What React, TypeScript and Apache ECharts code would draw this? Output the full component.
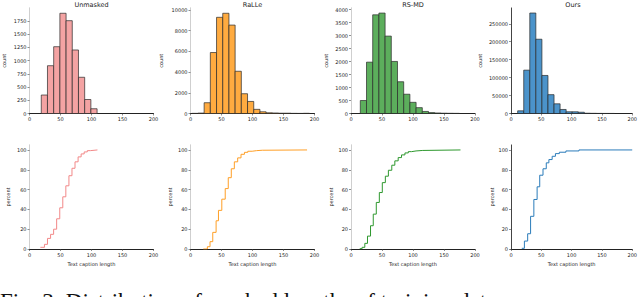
import React, { useEffect, useRef } from "react";
import * as echarts from "echarts";

// ---------- data ----------
const titles = ["Unmasked", "RaLLe", "RS-MD", "Ours"];
const barColors = ["#f4a3a3", "#ffab40", "#5cae5c", "#4b93ca"];
const lineColors = ["#f28888", "#ff9f26", "#2e982e", "#2b7cba"];

const xTicks = [0, 50, 100, 150, 200];

const histEdges1 = [19, 29, 39, 49, 59, 69, 79, 89, 99, 109];
const histCounts1 = [350, 905, 1265, 1898, 1758, 1203, 686, 265, 90];
const histEdges2 = [2, 12, 22, 32, 42, 52, 62, 72, 82, 92, 102, 112, 122, 132, 142, 152, 162, 172, 182, 192];
const histCounts2 = [15, 40, 1040, 5890, 9290, 9680, 8540, 4080, 1910, 1165, 400, 165, 70, 50, 30, 30, 15, 10, 20];
const histEdges3 = [15, 25, 35, 45, 55, 65, 75, 85, 95, 105, 115, 125, 135, 145, 155, 165, 175];
const histCounts3 = [500, 1977, 3800, 3867, 2980, 2004, 1223, 742, 430, 225, 80, 35, 20, 12, 8, 6];
const histEdges4 = [11, 21, 31, 41, 51, 61, 71, 81, 91, 101, 111, 121, 131, 141, 151, 161, 171];
const histCounts4 = [7500, 120800, 280000, 207000, 106000, 52500, 27000, 11200, 4800, 4800, 3500, 800, 500, 300, 200, 150];

const yTicks1 = [0, 250, 500, 750, 1000, 1250, 1500, 1750];
const yTicks2 = [0, 2000, 4000, 6000, 8000, 10000];
const yTicks3 = [0, 500, 1000, 1500, 2000, 2500, 3000, 3500, 4000];
const yTicks4 = [0, 50000, 100000, 150000, 200000, 250000];
const yMaxTop = [1998, 10190, 4062, 294000];

const cdfX1 = [17.5, 24.1, 29, 34, 38.9, 43.8, 48.8, 53.7, 58.6, 63.6, 68.5, 73.4, 78.4, 83.3, 88.2, 93.2, 98.1, 109.6];
const cdfY1 = [1.7, 4.7, 10.7, 14.8, 20, 30.5, 41.6, 52.7, 63.8, 74, 81.5, 88, 93, 96, 98, 99.3, 100, 100];
const cdfX2 = [20.7, 27.2, 31.5, 35.9, 41.3, 45.1, 50.5, 56, 60.9, 65.8, 70.7, 76.1, 81.5, 87, 92.4, 99.5, 106.5, 115.8, 188];
const cdfY2 = [0, 2.3, 7.4, 16.8, 28.5, 39, 50.3, 61, 72, 81, 88, 92, 95.6, 97.6, 98.7, 99.3, 99.7, 100, 100];
const cdfX3 = [14.1, 17.9, 22.3, 26.6, 31.5, 35.9, 40.8, 45.7, 50.5, 55.4, 60.3, 65.8, 70.7, 76.1, 81.5, 87, 92.4, 97.8, 104.9, 115.8, 176.6];
const cdfY3 = [0.3, 1.7, 5.7, 13, 23.5, 35.2, 47, 57, 67, 73.5, 79.5, 84.6, 89, 92.3, 95, 97, 98.3, 99, 99.5, 100, 100];
const cdfX4 = [17.8, 22.1, 27.5, 32.3, 37.7, 43.1, 47.4, 52.8, 58.2, 62.5, 67.9, 73.3, 79.8, 90.6, 112.1, 200];
const cdfY4 = [0.7, 8, 15.4, 33, 50, 62.8, 74.5, 81, 87, 90.3, 93.6, 96.3, 97.7, 99, 100, 100];
const pctTicks = [0, 20, 40, 60, 80, 100];

const captionText = "Fig. 3: Distribution of masked lengths of training data.";

// ---------- layout ----------
const lefts = [29.5, 190.5, 351, 511];
const plotW = 124;
const topRow = { top: 8, height: 105.5 };
const botRow = { top: 145, height: 104 };
const countGaps = [23, 27, 23, 29];
const pctGaps = [19, 18, 18, 17];
const rightSpine = ["#cfcfcf", "#cfcfcf", "#cfcfcf", "#444"];

const FONT = "DejaVu Sans";

export default function App() {
  const ref = useRef<HTMLDivElement>(null);
  useEffect(() => {
    document.body.style.margin = "0";
    const chart = echarts.init(ref.current!, undefined, { renderer: "svg" });

    const hists = [
      [histEdges1, histCounts1],
      [histEdges2, histCounts2],
      [histEdges3, histCounts3],
      [histEdges4, histCounts4],
    ] as const;
    const yTicksTop = [yTicks1, yTicks2, yTicks3, yTicks4];
    const cdfs = [
      [cdfX1, cdfY1],
      [cdfX2, cdfY2],
      [cdfX3, cdfY3],
      [cdfX4, cdfY4],
    ] as const;

    const grid: any[] = [];
    const xAxis: any[] = [];
    const yAxis: any[] = [];
    const series: any[] = [];
    const graphic: any[] = [];

    const labelStyle = {
      fontSize: 5,
      fontFamily: FONT,
      color: "#222",
      formatter: (v: number) => String(v),
    };

    for (let r = 0; r < 2; r++) {
      for (let p = 0; p < 4; p++) {
        const g = r * 4 + p;
        const rowCfg = r === 0 ? topRow : botRow;
        grid.push({ left: lefts[p], top: rowCfg.top, width: plotW, height: rowCfg.height, containLabel: false });
        xAxis.push({
          type: "value",
          gridIndex: g,
          min: 0,
          max: 200,
          position: "bottom",
          axisLine: { show: r === 1, lineStyle: { color: "#222", width: 1 } },
          axisTick: { show: true, length: 2, customValues: xTicks, lineStyle: { color: "#444", width: 0.6 } },
          axisLabel: { ...labelStyle, margin: 3, customValues: xTicks },
          splitLine: { show: false },
          name: r === 1 ? "Text caption length" : "",
          nameLocation: "middle",
          nameGap: 12,
          nameTextStyle: { fontSize: 5, fontFamily: FONT, color: "#222" },
        });
        xAxis.push({
          type: "value",
          gridIndex: g,
          min: 0,
          max: 200,
          position: "top",
          show: r === 0,
          axisLine: { show: true, lineStyle: { color: "#222", width: 1 } },
          axisTick: { show: false },
          axisLabel: { show: false },
          splitLine: { show: false },
        });
        const ymax = r === 0 ? yMaxTop[p] : 105;
        const yt = r === 0 ? yTicksTop[p] : pctTicks;
        yAxis.push({
          type: "value",
          gridIndex: g,
          min: 0,
          max: ymax,
          position: "left",
          axisLine: { show: true, lineStyle: { color: "#cfcfcf", width: 1 } },
          axisTick: { show: true, length: 2, customValues: yt, lineStyle: { color: "#444", width: 0.6 } },
          axisLabel: { ...labelStyle, margin: 3, customValues: yt },
          splitLine: { show: false },
          name: r === 0 ? "count" : "percent",
          nameLocation: "middle",
          nameRotate: 90,
          nameGap: r === 0 ? countGaps[p] : pctGaps[p],
          nameTextStyle: { fontSize: 5, fontFamily: FONT, color: "#222" },
        });
        yAxis.push({
          type: "value",
          gridIndex: g,
          min: 0,
          max: ymax,
          position: "right",
          axisLine: { show: true, lineStyle: { color: rightSpine[p], width: 1 } },
          axisTick: { show: false },
          axisLabel: { show: false },
          splitLine: { show: false },
        });

        if (r === 0) {
          const [edges, counts] = hists[p];
          const data = counts.map((c, i) => [edges[i], edges[i + 1], c]);
          const fill = barColors[p];
          series.push({
            type: "custom",
            xAxisIndex: 2 * g,
            yAxisIndex: 2 * g,
            encode: { x: [0, 1], y: 2 },
            data,
            renderItem: (params: any, api: any) => {
              const x0 = api.value(0);
              const x1 = api.value(1);
              const c = api.value(2);
              const a = api.coord([x0, c]);
              const b = api.coord([x1, 0]);
              return {
                type: "rect",
                shape: { x: a[0], y: a[1], width: b[0] - a[0], height: b[1] - a[1] },
                style: { fill, stroke: "#2a2a2a", lineWidth: 0.7 },
              };
            },
          });
          graphic.push({
            type: "text",
            x: lefts[p] + plotW / 2,
            y: 1,
            style: {
              text: titles[p],
              fontSize: 6.5,
              fontFamily: FONT,
              fill: "#222",
              align: "center",
              verticalAlign: "top",
            },
          });
        } else {
          const [xs, ys] = cdfs[p];
          series.push({
            type: "line",
            xAxisIndex: 2 * g,
            yAxisIndex: 2 * g,
            step: "end",
            symbol: "none",
            data: xs.map((x, i) => [x, ys[i]]),
            lineStyle: { color: lineColors[p], width: 1 },
          });
        }
      }
    }

    graphic.push({
      type: "text",
      x: 0,
      y: 301,
      z: 10,
      style: {
        text: captionText,
        fontSize: 23,
        fontFamily: "Liberation Serif",
        fill: "#111",
        align: "left",
        verticalAlign: "middle",
      },
    });

    chart.setOption({
      animation: false,
      backgroundColor: "#fff",
      grid,
      xAxis,
      yAxis,
      series,
      graphic,
    });
    return () => chart.dispose();
  }, []);

  return <div ref={ref} style={{ width: 640, height: 297 }} />;
}
